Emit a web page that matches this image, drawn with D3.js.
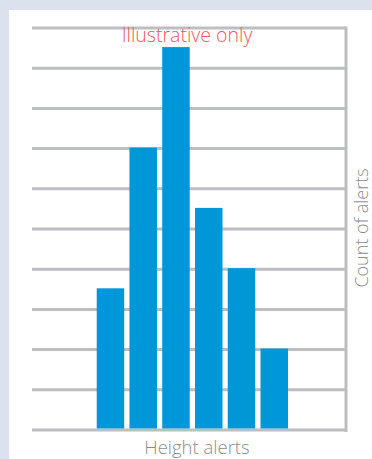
<!DOCTYPE html>
<html><head><meta charset="utf-8">
<script src="https://cdn.jsdelivr.net/npm/d3@7"></script>
<style>html,body{margin:0;padding:0;background:#dbe1ed;}svg{display:block;}</style>
</head><body>
<svg id="chart" width="372" height="459"></svg>
<script>
const categories = ["1","2","3","4","5","6"];
const values = [3.5, 7, 9.5, 5.5, 4, 2];
const gridTicks = [0,1,2,3,4,5,6,7,8,9,10];
const title = "Illustrative only";
const xTitle = "Height alerts";
const yTitle = "Count of alerts";

const svg = d3.select("#chart");
svg.append("rect").attr("x",9).attr("y",10).attr("width",363).attr("height",449).attr("fill","#ffffff");

const y = d3.scaleLinear().domain([0,10]).range([430,28]);
const x = d3.scaleBand().domain(categories).range([96.7,288]).paddingInner(0.16).paddingOuter(0);

svg.append("g").selectAll("line").data(gridTicks).join("line")
  .attr("x1",32).attr("x2",346).attr("y1",d=>y(d)).attr("y2",d=>y(d))
  .attr("stroke","#bdbec2").attr("stroke-width",3);
svg.append("line").attr("x1",346).attr("x2",346).attr("y1",26.5).attr("y2",432)
  .attr("stroke","#bdbec2").attr("stroke-width",3);

svg.append("g").selectAll("rect").data(values).join("rect")
  .attr("x",(d,i)=>x(categories[i])).attr("width",x.bandwidth())
  .attr("y",d=>y(d)-1).attr("height",d=>y(0)-1.5-y(d)+1)
  .attr("fill","#0097d9");

svg.append("text").attr("x",187).attr("y",41.5).attr("text-anchor","middle")
  .attr("font-family","Open Sans").attr("font-weight",300).attr("font-size",19.5)
  .attr("fill","#f0585c").text(title);
svg.append("text").attr("x",197).attr("y",454).attr("text-anchor","middle")
  .attr("font-family","Open Sans").attr("font-weight",300).attr("font-size",18.5)
  .attr("fill","#8c8d91").text(xTitle);
svg.append("text").attr("transform","translate(368,228) rotate(-90)").attr("text-anchor","middle")
  .attr("font-family","Open Sans").attr("font-weight",300).attr("font-size",18)
  .attr("fill","#8c8d91").text(yTitle);
</script>
</body></html>
